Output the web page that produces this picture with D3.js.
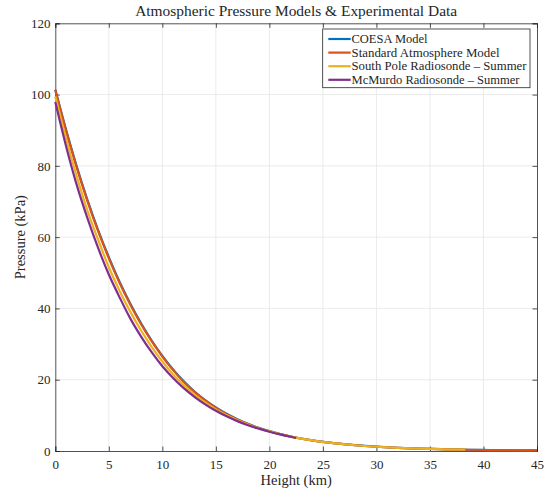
<!DOCTYPE html>
<html>
<head>
<meta charset="utf-8">
<script src="https://cdn.jsdelivr.net/npm/d3@7/dist/d3.min.js"></script>
<style>
  html, body { margin: 0; padding: 0; background: #fff; }
  svg { display: block; }
  text { font-family: "Liberation Serif", "DejaVu Serif", serif; fill: #262626; }
</style>
</head>
<body>
<svg id="chart" width="553" height="493"></svg>
<script>
// ---- Data ----
const modelHeights = [0,1,2,3,4,5,6,7,8,9,10,11,12,13,14,15,16,17,18,19,20,21,22,24,26,28,30,32,34,36,38,40,42,44,45];
const coesaPressure = [101.33,90.2,79.9,70.5,62.0,54.4,47.5,41.4,35.9,31.0,26.7,22.9,19.55,16.7,14.28,12.2,10.43,8.92,7.63,6.52,5.57,4.77,4.08,2.99,2.21,1.63,1.21,0.896,0.668,0.503,0.380,0.289,0.222,0.170,0.150];
const standardPressure = [101.33,89.88,79.50,70.12,61.66,54.05,47.22,41.11,35.65,30.80,26.50,22.70,19.40,16.58,14.17,12.11,10.35,8.85,7.57,6.47,5.53,4.73,4.05,2.97,2.19,1.62,1.20,0.889,0.663,0.499,0.377,0.287,0.220,0.169,0.149];

const southPoleHeights = [0,1,2,3,4,5,6,7,8,9,10,11,12,13,14,15,16,17,18,19,20,21,22,24,26,28,30,32,34,36,38,38.3];
const southPolePressure = [99.5,87.7,77.05,67.46,59.27,51.55,44.99,39.11,33.87,29.22,25.10,21.49,18.51,15.82,13.62,11.64,10.03,8.65,7.45,6.37,5.49,4.73,4.05,2.97,2.19,1.62,1.20,0.889,0.663,0.499,0.377,0.36];

const mcmurdoHeights = [0,1,2,3,4,5,6,7,8,9,10,11,12,13,14,15,16,17,18,19,20,21,22,22.5];
const mcmurdoPressure = [97.9,85.6,74.66,65.33,56.97,49.51,43.16,37.21,32.18,27.72,23.78,20.50,17.65,15.21,13.10,11.28,9.72,8.38,7.22,6.27,5.40,4.66,3.99,3.65];

const seriesNames = ["COESA Model","Standard Atmosphere Model","South Pole Radiosonde \u2013 Summer","McMurdo Radiosonde \u2013 Summer"];
const seriesColors = ["#0072BD","#D95319","#EDB120","#7E2F8E"];
const xTicks = [0,5,10,15,20,25,30,35,40,45];
const yTicks = [0,20,40,60,80,100,120];
const titleText = "Atmospheric Pressure Models & Experimental Data";
const xLabelText = "Height (km)";
const yLabelText = "Pressure (kPa)";

// ---- Layout ----
const svg = d3.select("#chart");
const L = 55.3, R = 537, T = 23.3, B = 451;
const x = d3.scaleLinear().domain([0,45]).range([L,R]);
const y = d3.scaleLinear().domain([0,120]).range([B,T]);

// grid
const grid = svg.append("g");
grid.selectAll("line.gx").data(xTicks.slice(1,-1)).enter().append("line")
  .attr("x1", d=>x(d)).attr("x2", d=>x(d)).attr("y1", T).attr("y2", B)
  .attr("stroke", "#e6e6e6").attr("stroke-width", 0.8);
grid.selectAll("line.gy").data(yTicks.slice(1,-1)).enter().append("line")
  .attr("x1", L).attr("x2", R).attr("y1", d=>y(d)).attr("y2", d=>y(d))
  .attr("stroke", "#e6e6e6").attr("stroke-width", 0.8);

// axes with inward ticks
const tickLen = 4.5;
const xAxisB = d3.axisBottom(x).tickValues(xTicks).tickSize(-tickLen).tickPadding(8.3).tickFormat(d3.format("d"));
const xAxisT = d3.axisTop(x).tickValues(xTicks).tickSize(-tickLen).tickFormat("");
const yAxisL = d3.axisLeft(y).tickValues(yTicks).tickSize(-tickLen).tickPadding(4.8).tickFormat(d3.format("d"));
const yAxisR = d3.axisRight(y).tickValues(yTicks).tickSize(-tickLen).tickFormat("");

function styleAxis(g){
  g.select(".domain").attr("stroke", "#262626").attr("stroke-width", 0.8);
  g.selectAll(".tick line").attr("stroke", "#262626").attr("stroke-width", 0.8);
  g.selectAll(".tick text").attr("font-family", "Liberation Serif, serif").attr("font-size", 13).attr("fill", "#262626");
}
svg.append("g").attr("transform", `translate(0,${B})`).call(xAxisB).call(styleAxis);
svg.append("g").attr("transform", `translate(0,${T})`).call(xAxisT).call(styleAxis);
svg.append("g").attr("transform", `translate(${L},0)`).call(yAxisL).call(styleAxis);
svg.append("g").attr("transform", `translate(${R},0)`).call(yAxisR).call(styleAxis);

// lines
const line = d3.line().x(d=>x(d[0])).y(d=>y(d[1])).curve(d3.curveMonotoneX);
const series = [
  d3.zip(modelHeights, coesaPressure),
  d3.zip(modelHeights, standardPressure),
  d3.zip(southPoleHeights, southPolePressure),
  d3.zip(mcmurdoHeights, mcmurdoPressure)
];
const plot = svg.append("g");
series.forEach((s,i)=>{
  plot.append("path").datum(s).attr("d", line)
    .attr("fill","none").attr("stroke", seriesColors[i]).attr("stroke-width", 2.2)
    .attr("stroke-linejoin","round");
});

// title & labels
svg.append("text").attr("x", (L+R)/2).attr("y", 16).attr("text-anchor","middle")
  .attr("font-size", 14).attr("fill","#000").attr("textLength", 322).attr("lengthAdjust","spacingAndGlyphs")
  .text(titleText);
svg.append("text").attr("x", (L+R)/2).attr("y", 485).attr("text-anchor","middle")
  .attr("font-size", 14.5).text(xLabelText);
svg.append("text").attr("transform", `translate(25,${(T+B)/2}) rotate(-90)`).attr("text-anchor","middle")
  .attr("font-size", 14.5).text(yLabelText);

// legend
const lg = svg.append("g");
lg.append("rect").attr("x", 322.7).attr("y", 29).attr("width", 207.3).attr("height", 58.7)
  .attr("fill","#fff").attr("stroke","#262626").attr("stroke-width",0.8);
const legendWidths = [76, 148, 175, 168];
seriesNames.forEach((n,i)=>{
  const yy = 39 + i*13.6;
  lg.append("line").attr("x1", 328.3).attr("x2", 350.7).attr("y1", yy).attr("y2", yy)
    .attr("stroke", seriesColors[i]).attr("stroke-width", 2.2);
  lg.append("text").attr("x", 351.5).attr("y", yy + 4).attr("font-size", 12.5)
    .attr("textLength", legendWidths[i]).attr("lengthAdjust","spacingAndGlyphs").text(n);
});
</script>
</body>
</html>
